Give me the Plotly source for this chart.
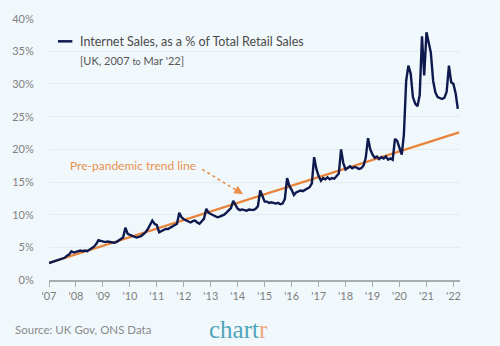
import plotly.graph_objects as go
import pandas as pd

# ---- data ----
values_2007 = [2.6, 2.7, 2.8, 3.0, 3.0, 3.1, 3.3, 3.4, 3.7, 3.9, 4.4, 4.2]
values_2008 = [4.3, 4.4, 4.5, 4.4, 4.5, 4.4, 4.6, 4.8, 5.1, 5.5, 6.1, 6.0]
values_2009 = [5.9, 5.8, 5.9, 5.8, 5.7, 5.7, 5.8, 6.0, 6.2, 6.5, 8.0, 7.1]
values_2010 = [6.9, 6.8, 6.7, 6.5, 6.6, 6.7, 7.0, 7.3, 7.8, 8.4, 9.1, 8.6]
values_2011 = [8.4, 7.3, 7.5, 7.7, 7.8, 7.8, 8.0, 8.1, 8.3, 8.6, 10.3, 9.6]
values_2012 = [9.3, 9.1, 8.9, 8.8, 9.0, 9.1, 8.8, 8.6, 9.0, 9.4, 10.9, 10.3]
values_2013 = [10.1, 9.9, 9.7, 9.6, 9.7, 9.8, 10.0, 10.3, 10.6, 11.0, 12.1, 11.4]
values_2014 = [10.9, 10.7, 10.8, 10.7, 10.6, 10.8, 10.7, 10.7, 10.9, 11.3, 13.7, 12.7]
values_2015 = [12.0, 12.0, 11.8, 11.9, 11.8, 11.7, 11.8, 11.6, 11.7, 12.4, 15.6, 14.4]
values_2016 = [13.8, 13.0, 13.4, 13.5, 13.7, 13.6, 13.8, 14.0, 14.2, 14.8, 18.8, 17.0]
values_2017 = [15.9, 15.2, 15.6, 15.4, 15.7, 15.4, 15.6, 15.5, 15.9, 16.3, 20.0, 17.9]
values_2018 = [16.9, 17.2, 17.4, 17.1, 17.3, 17.2, 17.0, 17.1, 17.5, 18.7, 21.7, 20.0]
values_2019 = [19.2, 18.7, 18.9, 18.5, 18.8, 18.6, 18.9, 18.4, 18.6, 18.4, 21.6, 21.3]
values_2020 = [20.3, 19.2, 22.3, 30.5, 32.8, 31.6, 28.0, 27.0, 26.6, 28.3, 37.3, 31.3]
values_2021 = [37.9, 36.5, 34.8, 30.5, 28.7, 28.0, 27.8, 27.7, 27.9, 28.8, 32.8, 30.3]
values_2022 = [30.0, 28.5, 26.2]

sales = (values_2007 + values_2008 + values_2009 + values_2010 + values_2011 +
         values_2012 + values_2013 + values_2014 + values_2015 + values_2016 +
         values_2017 + values_2018 + values_2019 + values_2020 + values_2021 +
         values_2022)
months = pd.date_range("2007-01-01", periods=len(sales), freq="MS")

trend_dates = ["2007-01-01", "2022-03-20"]
trend_values = [2.6, 22.6]

tick_dates = [f"{y}-01-01" for y in range(2007, 2023)]
tick_labels = [f"'{y % 100:02d}" for y in range(2007, 2023)]
y_ticks = [0, 5, 10, 15, 20, 25, 30, 35, 40]
y_labels = [f"{v}%" for v in y_ticks]

# ---- layout geometry (pixels) ----
W, H = 500, 346
L, R, T, B = 47, 40, 16, 66
PW, PH = W - L - R, H - T - B

def px(x):
    return (x - L) / PW

def py(y):
    return (H - B - y) / PH

BG = "#F1F8FC"
NAVY = "#0E1A4E"
ORANGE = "#E8843A"
FONT = "Lato"

fig = go.Figure()
fig.add_trace(go.Scatter(x=trend_dates, y=trend_values, mode="lines",
                         line=dict(color=ORANGE, width=2.2), hoverinfo="skip",
                         showlegend=False))
fig.add_trace(go.Scatter(x=months, y=sales, mode="lines",
                         line=dict(color=NAVY, width=2.4), showlegend=False))

fig.update_layout(
    width=W, height=H,
    margin=dict(l=L, r=R, t=T, b=B),
    paper_bgcolor=BG, plot_bgcolor=BG,
    font=dict(family=FONT, color="#808080", size=11),
    xaxis=dict(range=["2007-01-01", "2022-03-31"], tickvals=tick_dates,
               ticktext=tick_labels, showgrid=False, showline=True,
               linecolor="#A8ADB0", linewidth=1.5, ticks="outside",
               ticklen=5, tickcolor="#A8ADB0", tickwidth=1.2,
               tickfont=dict(size=11, color="#808080"), zeroline=False),
    yaxis=dict(range=[0, 40.1], tickvals=y_ticks, ticktext=y_labels,
               showgrid=True, gridcolor="#E3ECF2", gridwidth=1,
               zeroline=False, showline=False, ticks="outside",
               ticklen=12, tickcolor="rgba(0,0,0,0)",
               tickfont=dict(size=11, color="#808080")),
)

# legend-like label
fig.add_shape(type="line", xref="paper", yref="paper",
              x0=px(56), x1=px(70.5), y0=py(39.5), y1=py(39.5),
              line=dict(color=NAVY, width=2.5))
fig.add_annotation(xref="paper", yref="paper", x=px(76), y=py(39.5),
                   xanchor="left", yanchor="middle", showarrow=False,
                   text="Internet Sales, as a % of Total Retail Sales",
                   font=dict(size=12.5, color="#4A4A4A", family=FONT))
fig.add_annotation(xref="paper", yref="paper", x=px(76), y=py(59),
                   xanchor="left", yanchor="middle", showarrow=False,
                   text="[UK, 2007 <span style='font-size:9px'>to</span> Mar '22]",
                   font=dict(size=11, color="#555555", family=FONT))

# trend annotation
fig.add_annotation(xref="paper", yref="paper", x=px(66), y=py(165),
                   xanchor="left", yanchor="middle", showarrow=False,
                   text="Pre-pandemic trend line",
                   font=dict(size=12, color="#E8904C", family=FONT))
fig.add_shape(type="line", xref="paper", yref="paper",
              x0=px(201), y0=py(168.5), x1=px(236), y1=py(190),
              line=dict(color="#E8904C", width=1.6, dash="dot"))
fig.add_annotation(xref="paper", yref="paper", x=px(242), y=py(193.5),
                   ax=-8, ay=-5, text="", showarrow=True,
                   arrowhead=2, arrowsize=1.1, arrowwidth=1.6,
                   arrowcolor="#E8904C", standoff=0)

# footer
fig.add_annotation(xref="paper", yref="paper", x=px(11), y=py(330),
                   xanchor="left", yanchor="middle", showarrow=False,
                   text="Source: UK Gov, ONS Data",
                   font=dict(size=11.5, color="#8A8A8A", family=FONT))
fig.add_annotation(xref="paper", yref="paper", x=px(206), y=py(330),
                   xanchor="left", yanchor="middle", showarrow=False,
                   text="<span style='color:#4FA4BA'>chart</span><span style='color:#F0A67C'>r</span>",
                   font=dict(size=25, family="Liberation Serif"))

fig.write_html("out.html")
